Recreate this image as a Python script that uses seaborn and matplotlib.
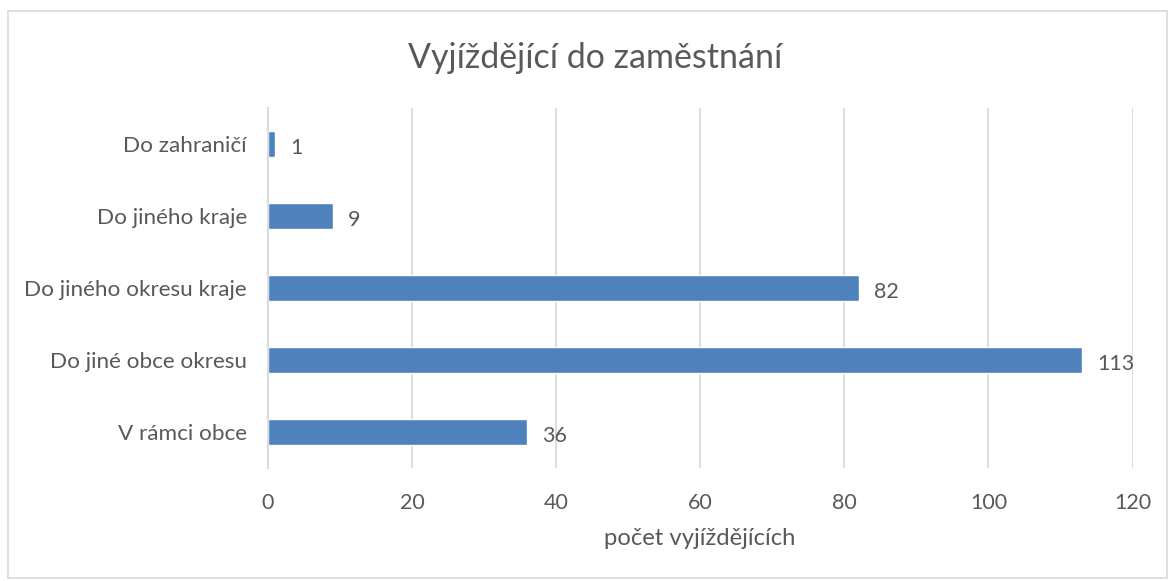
import matplotlib
matplotlib.use("Agg")
import matplotlib.pyplot as plt
import seaborn as sns
import pandas as pd
from matplotlib.patches import Rectangle

# --- Data ---
categories = ["V rámci obce", "Do jiné obce okresu", "Do jiného okresu kraje",
              "Do jiného kraje", "Do zahraničí"]
counts = [36, 113, 82, 9, 1]
x_ticks = [0, 20, 40, 60, 80, 100, 120]

# top-down order as in the reference
order = categories[::-1]
df = pd.DataFrame({"kategorie": categories, "pocet": counts})

sns.set_theme(style="white")
plt.rcParams['font.family'] = ['Lato', 'DejaVu Sans']
text_color = "#595959"
bar_color = "#4F81BD"

fig = plt.figure(figsize=(11.7, 5.81), dpi=100)
ax = fig.add_axes([0.229, 0.1945, 0.739, 0.6195])

sns.barplot(data=df, y="kategorie", x="pocet", order=order, color=bar_color,
            width=0.36, saturation=1, ax=ax, orient="h")

ax.set_xlim(0, 120)
ax.set_xticks(x_ticks)
ax.grid(axis="x", color="#d9d9d9", linewidth=1.3)
ax.set_axisbelow(True)
for s in ["top", "right", "bottom"]:
    ax.spines[s].set_visible(False)
ax.spines["left"].set_color("#d9d9d9")
ax.spines["left"].set_linewidth(1.3)
ax.tick_params(axis="y", length=0, labelsize=16.2, colors=text_color, pad=15)
ax.tick_params(axis="x", length=0, labelsize=15.5, colors=text_color, pad=18)
ax.set_ylabel("")
ax.set_xlabel("počet vyjíždějících", fontsize=17.2, color=text_color, labelpad=11)

for cont in ax.containers:
    labels = ax.bar_label(cont, padding=11, fontsize=15.5, color=text_color)
    # nudge the value labels a little below the bar centre, like the original
    for t in labels:
        t.xyann = (11, -3)

fig.text(0.509, 0.90, "Vyjíždějící do zaměstnání", ha="center", va="center",
         fontsize=24.5, color=text_color)

fig.patches.append(Rectangle((8 / 1170, 3 / 581), 1159 / 1170, 567 / 581,
                             transform=fig.transFigure, fill=False,
                             edgecolor="#d9d9d9", linewidth=1.2))

fig.savefig("out.png", dpi=100)
